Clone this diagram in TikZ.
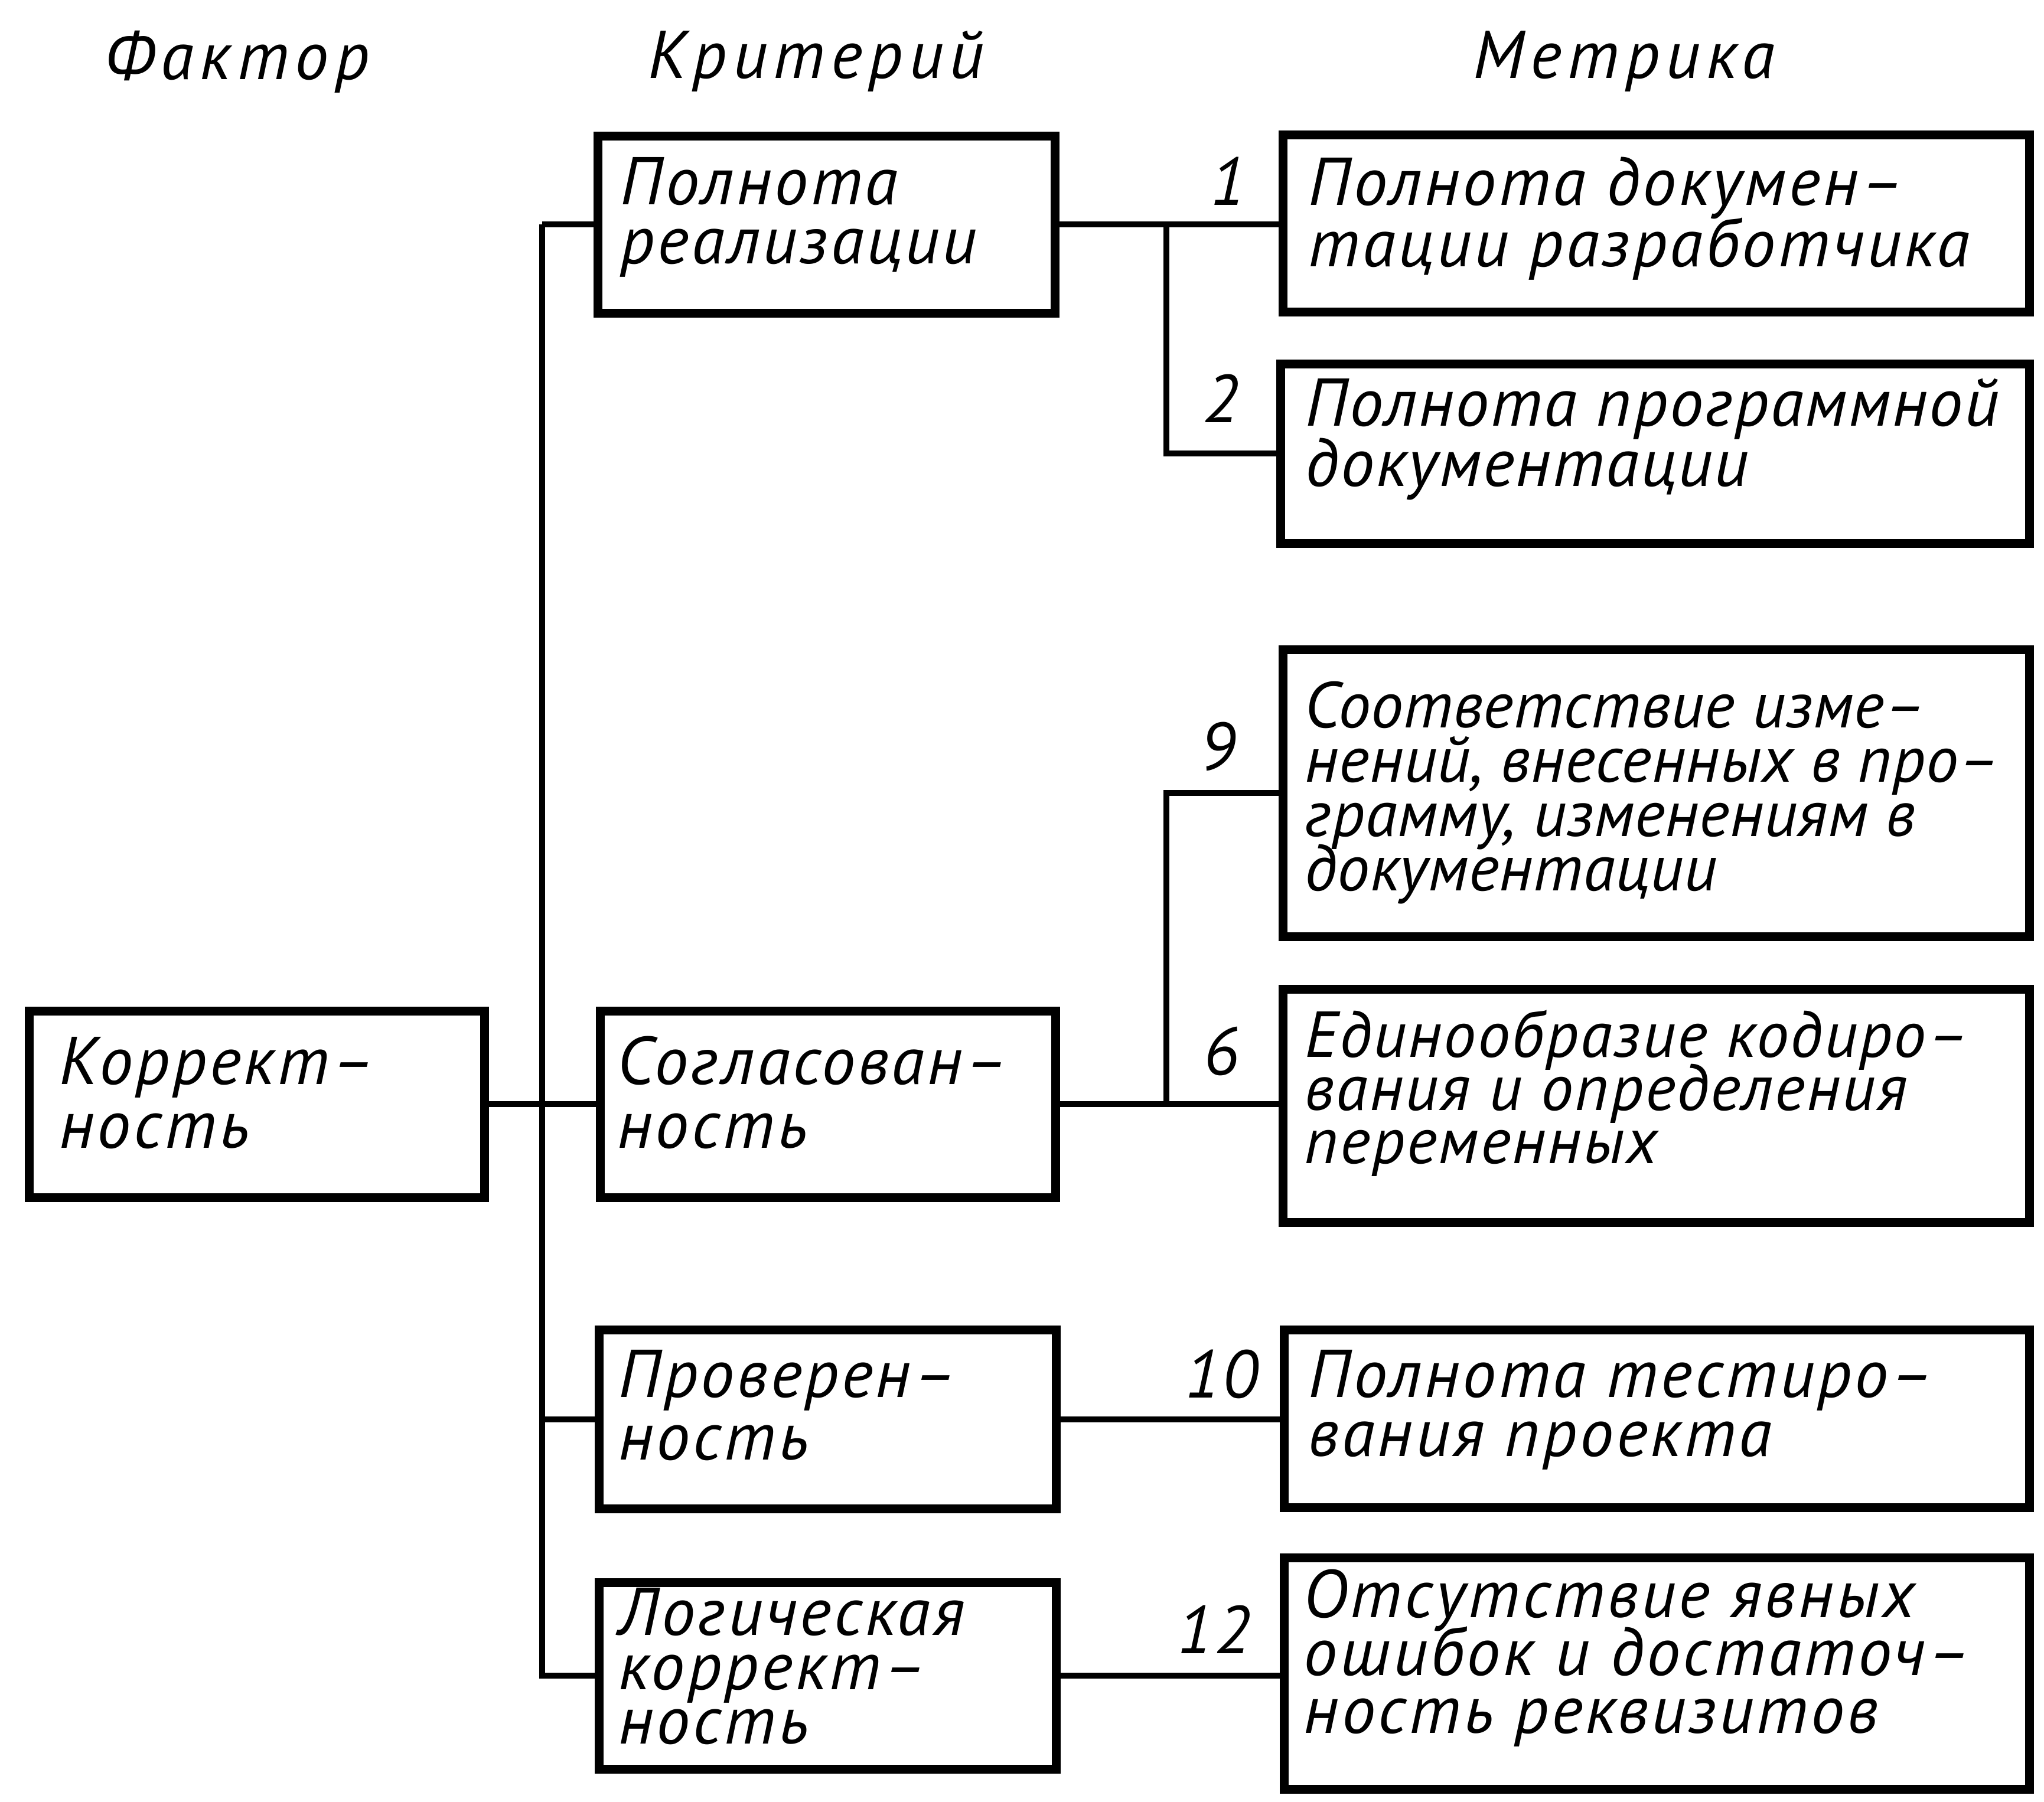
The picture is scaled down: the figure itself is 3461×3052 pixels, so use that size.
\documentclass[tikz,border=0pt]{standalone}
\usepackage{fontspec}
\setmainfont{PT Sans}
\newfontfamily\gA{PT Sans}[LetterSpace=4]
\newfontfamily\gC{PT Sans}[LetterSpace=2.5]
\newfontfamily\gB{PT Sans}[LetterSpace=0.5]
\newfontfamily\gH{PT Sans}[LetterSpace=9]
\newcommand{\gfont}[1]{\fontsize{28.6pt}{#1}\selectfont\lineskiplimit=-100pt\itshape}
\newcommand{\gfontS}[2]{\fontsize{#1}{#2}\selectfont\lineskiplimit=-100pt\itshape}
\tikzset{
  box/.style={draw, line width=3.75pt, inner sep=0pt, rectangle},
  conn/.style={line width=2.5pt},
  txt/.style={inner sep=0pt, align=left, anchor=base west},
  num/.style={inner sep=0pt, anchor=center, font=\gA\gfont{25pt}},
}
\newcommand{\bx}[5]{\node[box, minimum width=#4*0.25pt, minimum height=#5*0.25pt] (#1) at (#2,#3) {};}
\begin{document}
\begin{tikzpicture}[x=0.25pt,y=-0.25pt]
\fill[white] (0,0) rectangle (3461,3052);
\useasboundingbox (0,0) rectangle (3461,3052);

% headers
\node[txt, font=\gH\gfont{25pt}] (h1) at (177,134) {Фактор};
\node[txt, font=\gH\gfont{25pt}] (h2) at (1097,132) {Критерий};
\node[txt, font=\gH\gfont{25pt}] (h3) at (2494,132) {Метрика};

% boxes
\bx{k}{434.5}{1870}{771}{316}
\bx{c1}{1399}{380}{774}{300}
\bx{c2}{1402}{1870}{771}{316}
\bx{c3}{1401}{2403.5}{774}{303}
\bx{c4}{1401}{2838}{774}{316}
\bx{m1}{2804}{378}{1264}{300}
\bx{m2}{2802}{768}{1268}{304}
\bx{m9}{2804}{1343}{1264}{486}
\bx{m6}{2804}{1872.5}{1264}{395}
\bx{m10}{2805}{2402.5}{1262}{301}
\bx{m12}{2805}{2834}{1262}{392}

% texts (anchored at the baseline of the last line)
\node[txt, font=\gA\gfont{27pt}] (kt) at (100,1944) {Коррект–\\ность};
\node[txt, font=\gA\gfont{25pt}] (c1t) at (1050,446) {Полнота\\реализации};
\node[txt, font=\gA\gfont{27pt}] (c2t) at (1045,1944) {Согласован–\\ность};
\node[txt, font=\gA\gfont{26.5pt}] (c3t) at (1047,2472) {Проверен–\\ность};
\node[txt, font=\gA\gfont{23pt}] (c4t) at (1047,2953) {Логическая\\коррект–\\ность};
\node[txt, font=\gA\gfont{26pt}] (m1t) at (2215,451) {Полнота докумен–\\тации разработчика};
\node[txt, font=\gC\gfont{25.5pt}] (m2t) at (2210,823) {Полнота программной\\документации};
\node[txt, font=\gB\gfontS{27.5pt}{23pt}] (m9t) at (2209,1508) {Соответствие изме–\\нений, внесенных в про–\\грамму, изменениям в\\документации};
\node[txt, font=\gC\gfontS{27.5pt}{22.5pt}] (m6t) at (2209,1970) {Единообразие кодиро–\\вания и определения\\переменных};
\node[txt, font=\gA\gfont{25pt}] (m10t) at (2215,2466) {Полнота тестиро–\\вания проекта};
\node[txt, font=\gA\gfont{24.5pt}] (m12t) at (2207,2935) {Отсутствие явных\\ошибок и достаточ–\\ность реквизитов};

% numbers
\node[num] (n1) at (2079,307) {1};
\node[num] (n2) at (2067,675) {2};
\node[num] (n9) at (2062,1264) {9};
\node[num] (n6) at (2068,1780) {6};
\node[num] (n10) at (2068,2327) {10};
\node[num] (n12) at (2055,2760) {12};

% connectors
\coordinate (tt) at (918,380);
\coordinate (j1) at (1975,380);
\coordinate (j2) at (1975,1870);
\draw[conn] (tt) -- (tt |- c4.west) -- (c4.west);
\draw[conn] (tt) -- (c1.west);
\draw[conn] (k.east) -- (c2.west);
\draw[conn] (tt |- c3.west) -- (c3.west);
\draw[conn] (c1.east) -- (c1.east -| m1.west);
\draw[conn] (j1) |- (m2.west);
\draw[conn] (c2.east) -- (c2.east -| m6.west);
\draw[conn] (j2) |- (m9.west);
\draw[conn] (c3.east) -- (c3.east -| m10.west);
\draw[conn] (c4.east) -- (c4.east -| m12.west);
\end{tikzpicture}
\end{document}
